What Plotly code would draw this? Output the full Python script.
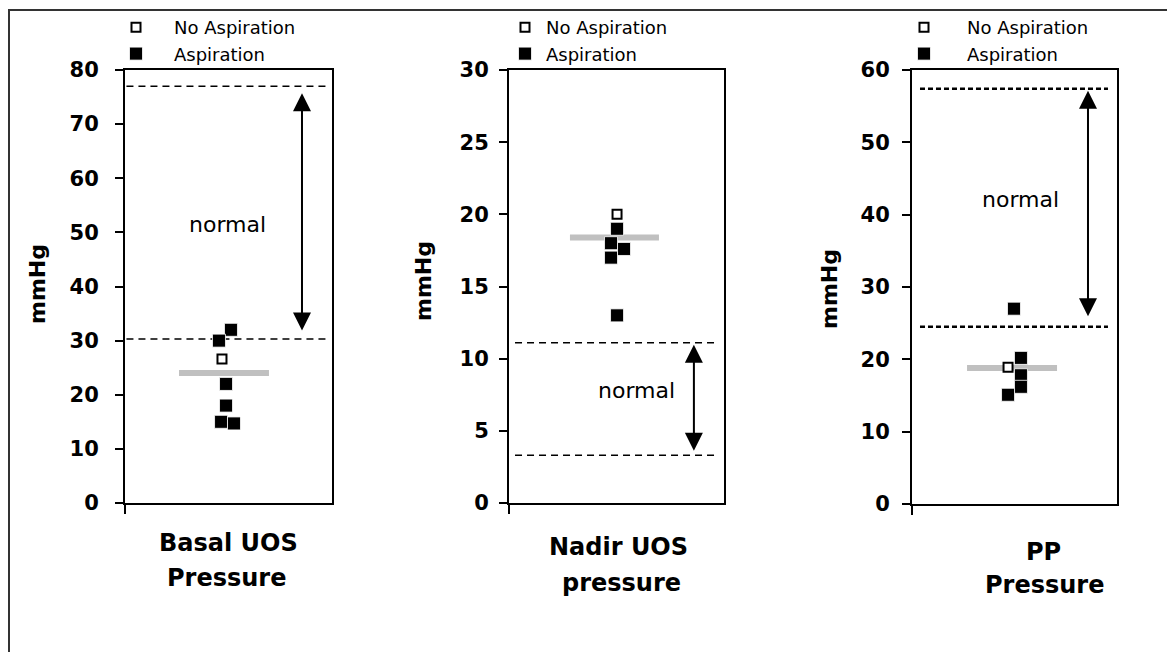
import plotly.graph_objects as go

W, H = 1175, 652
OFF = 8  # page body margin of the html page, in pixels

# ---------------- data ----------------
cat_line1 = ["Basal UOS", "Nadir UOS", "PP"]
cat_line2 = ["Pressure", "pressure", "Pressure"]

basal_asp = [32, 30, 22, 18, 15, 14.7]
basal_noasp = [26.6]
basal_mean = 24.0
basal_normal = [30.3, 77.0]

nadir_asp = [19, 18, 17.6, 17, 13]
nadir_noasp = [20.0]
nadir_mean = 18.4
nadir_normal = [3.3, 11.1]

pp_asp = [27, 20.2, 17.8, 16.2, 15.1]
pp_noasp = [18.9]
pp_mean = 18.8
pp_normal = [24.5, 57.4]

y_max = [80, 30, 60]
y_dtick = [10, 5, 10]

# horizontal jitter of the points (category centre = 0)
basal_asp_jit = [0.024, -0.092, -0.024, -0.024, -0.072, 0.053]
basal_noasp_jit = [-0.063]
nadir_asp_jit = [0.005, -0.051, 0.07, -0.051, 0.005]
nadir_noasp_jit = [0.005]
pp_asp_jit = [-0.005, 0.063, 0.063, 0.063, -0.063]
pp_noasp_jit = [-0.063]


def fx(px):
    return (px - OFF) / W


def fy(py):
    return 1 - (py - OFF) / H


# ---------------- layout geometry (screen pixels) ----------------
panels = [
    dict(asp=basal_asp, asp_j=basal_asp_jit, no=basal_noasp, no_j=basal_noasp_jit,
         mean=basal_mean, normal=basal_normal, x0=125, x1=332, y0=70, y1=503,
         mean_span=(-0.478, 0.391), dash_span=(-0.986, 0.966), dash="7px,5px", dash_w=1.5,
         arrow_x=0.71, so_top=7, so_bot=7, normal_xy=(-0.005, 51.5),
         title_x=37, title_y=284, standoff=12,
         lab1=(228, 543), lab2=(226, 578), leg_sym=135, leg_gap=38),
    dict(asp=nadir_asp, asp_j=nadir_asp_jit, no=nadir_noasp, no_j=nadir_noasp_jit,
         mean=nadir_mean, normal=nadir_normal, x0=509, x1=724, y0=70, y1=503,
         mean_span=(-0.433, 0.395), dash_span=(-0.944, 0.944), dash="7px,5px", dash_w=1.5,
         arrow_x=0.72, so_top=2, so_bot=3, normal_xy=(0.19, 7.8),
         title_x=423, title_y=281, standoff=6,
         lab1=(618, 547), lab2=(621, 583), leg_sym=524, leg_gap=21),
    dict(asp=pp_asp, asp_j=pp_asp_jit, no=pp_noasp, no_j=pp_noasp_jit,
         mean=pp_mean, normal=pp_normal, x0=912, x1=1117, y0=70, y1=504,
         mean_span=(-0.463, 0.415), dash_span=(-0.922, 0.912), dash="5px,3px", dash_w=2.5,
         arrow_x=0.717, so_top=2, so_bot=9, normal_xy=(0.063, 42.1),
         title_x=829, title_y=289, standoff=8,
         lab1=(1043, 552), lab2=(1044, 585), leg_sym=923, leg_gap=43),
]

FONT = "DejaVu Sans"
fig = go.Figure()
shapes, annotations = [], []
layout = {}

for i, p in enumerate(panels):
    n = "" if i == 0 else str(i + 1)
    xa, ya = "x" + n, "y" + n
    leg = "legend" + n

    # No Aspiration (open) first so it is listed first in the legend
    fig.add_trace(go.Scatter(
        x=p["no_j"], y=p["no"], mode="markers", name="No Aspiration",
        xaxis=xa, yaxis=ya, legend=leg,
        marker=dict(symbol="square", size=9, color="white",
                    line=dict(color="black", width=2)),
        hoverinfo="y"))
    fig.add_trace(go.Scatter(
        x=p["asp_j"], y=p["asp"], mode="markers", name="Aspiration",
        xaxis=xa, yaxis=ya, legend=leg,
        marker=dict(symbol="square", size=13, color="black",
                    line=dict(color="white", width=0.8)),
        hoverinfo="y"))

    layout["xaxis" + n] = dict(
        domain=[fx(p["x0"]), fx(p["x1"])], range=[-1, 1], anchor=ya,
        showline=True, mirror=True, linecolor="black", linewidth=2,
        tickvals=[-1], ticks="outside", ticklen=9, tickwidth=2, tickcolor="black",
        showticklabels=False, showgrid=False, zeroline=False, fixedrange=True,
        automargin=False)
    layout["yaxis" + n] = dict(
        domain=[fy(p["y1"]), fy(p["y0"])], range=[0, y_max[i]],
        dtick=y_dtick[i], anchor=xa,
        showline=True, mirror=True, linecolor="black", linewidth=2,
        ticks="outside", ticklen=8, tickwidth=2, tickcolor="black",
        ticklabelstandoff=p["standoff"],
        tickfont=dict(family=FONT, size=21, color="black", weight="bold"),
        showgrid=False, zeroline=False, fixedrange=True, automargin=False)

    # mean bar
    shapes.append(dict(type="line", xref=xa, yref=ya, layer="below",
                       x0=p["mean_span"][0], x1=p["mean_span"][1],
                       y0=p["mean"], y1=p["mean"],
                       line=dict(color="#c0c0c0", width=6)))
    # normal range limits
    for v in p["normal"]:
        shapes.append(dict(type="line", xref=xa, yref=ya, layer="below",
                           x0=p["dash_span"][0], x1=p["dash_span"][1], y0=v, y1=v,
                           line=dict(color="black", width=p["dash_w"], dash=p["dash"])))
    # double arrow
    annotations.append(dict(
        x=p["arrow_x"], y=p["normal"][1], ax=p["arrow_x"], ay=p["normal"][0],
        xref=xa, yref=ya, axref=xa, ayref=ya, text="", showarrow=True,
        arrowhead=2, startarrowhead=2, arrowside="end+start", arrowsize=1.8,
        startarrowsize=1.8, arrowwidth=2, arrowcolor="black",
        standoff=p["so_top"], startstandoff=p["so_bot"]))
    annotations.append(dict(
        x=p["normal_xy"][0], y=p["normal_xy"][1], xref=xa, yref=ya, text="normal",
        xanchor="center", yanchor="middle",
        showarrow=False, font=dict(family=FONT, size=22, color="black")))
    # y title
    annotations.append(dict(
        x=fx(p["title_x"]), y=fy(p["title_y"]), xref="paper", yref="paper",
        xanchor="center", yanchor="middle",
        text="mmHg", textangle=-90, showarrow=False,
        font=dict(family=FONT, size=22, color="black", weight="bold")))
    # category label (two lines)
    annotations.append(dict(
        x=fx(p["lab1"][0]), y=fy(p["lab1"][1]), xref="paper", yref="paper",
        xanchor="center", yanchor="middle",
        text=cat_line1[i], showarrow=False,
        font=dict(family=FONT, size=24, color="black", weight="bold")))
    annotations.append(dict(
        x=fx(p["lab2"][0]), y=fy(p["lab2"][1]), xref="paper", yref="paper",
        xanchor="center", yanchor="middle",
        text=cat_line2[i], showarrow=False,
        font=dict(family=FONT, size=24, color="black", weight="bold")))

    # legend
    iw = max(30, 2 * (p["leg_gap"] - 5))
    layout[leg] = dict(
        x=fx(p["leg_sym"] - 5 - iw / 2 + 1), y=fy(9),
        xanchor="left", yanchor="top", itemwidth=iw, itemsizing="trace",
        bgcolor="rgba(0,0,0,0)", borderwidth=0,
        font=dict(family=FONT, size=18, color="black"), traceorder="normal")

# outer frame
shapes.append(dict(type="rect", xref="paper", yref="paper",
                   x0=fx(9), x1=1.02, y0=-0.02, y1=fy(10),
                   line=dict(color="#333333", width=2), layer="below"))

fig.update_layout(
    template="none",
    width=W, height=H, autosize=False,
    margin=dict(l=0, r=0, t=0, b=0, pad=0),
    paper_bgcolor="white", plot_bgcolor="white",
    showlegend=True, shapes=shapes, annotations=annotations,
    font=dict(family=FONT, color="black"),
    **layout)

fig.write_html("out.html", config={"displayModeBar": False})
